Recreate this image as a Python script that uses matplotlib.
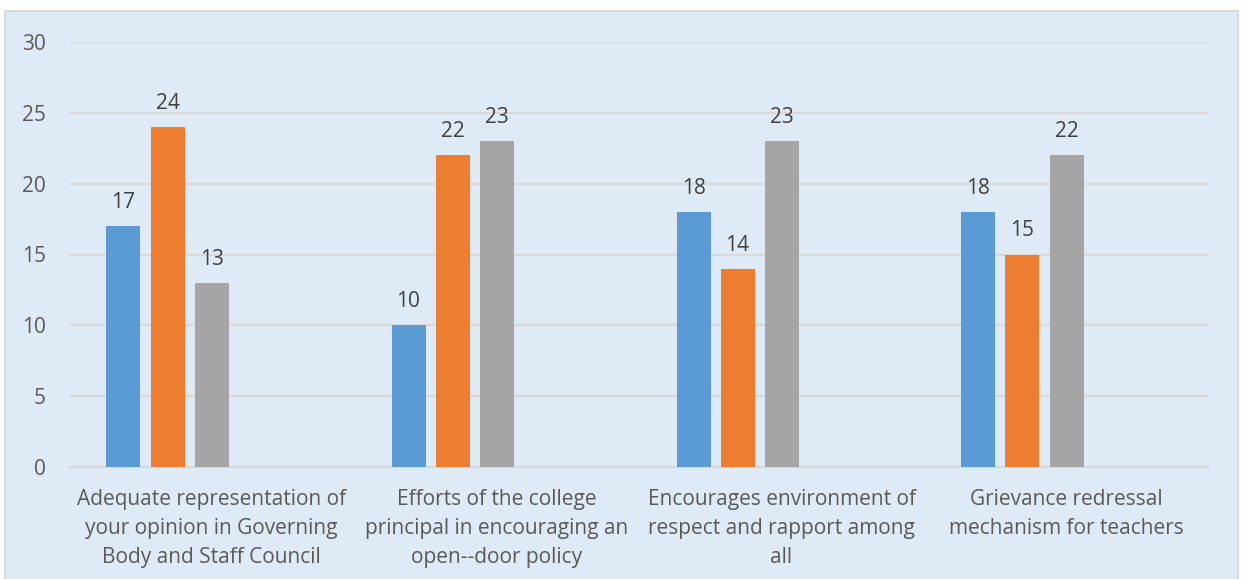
import matplotlib
matplotlib.use("Agg")
import matplotlib.pyplot as plt
from matplotlib.patches import Rectangle
import numpy as np

categories = [
    "Adequate representation of\nyour opinion in Governing\nBody and Staff Council",
    "Efforts of the college\nprincipal in encouraging an\nopen--door policy",
    "Encourages environment of\nrespect and rapport among\nall",
    "Grievance redressal\nmechanism for teachers",
]
series_a = [17, 10, 18, 18]
series_b = [24, 22, 14, 15]
series_c = [13, 23, 23, 22]

colors = ["#5B9BD5", "#ED7D31", "#A5A5A5"]
text_color = "#595959"
plt.rcParams["font.family"] = ["Open Sans", "DejaVu Sans"]

W, H = 1243, 579
fig = plt.figure(figsize=(W / 100, H / 100), dpi=100)
# light blue chart area with grey border
fig.patches.append(Rectangle((5 / W, -0.01), (1238 - 5) / W, (H - 11) / H + 0.01,
                             transform=fig.transFigure, facecolor="#DEEAF6",
                             edgecolor="#D9D9D9", linewidth=1.5, zorder=-5))

ax = fig.add_axes([69 / W, 1 - 467 / H, (1209 - 69) / W, (467 - 42) / H])
ax.set_facecolor("none")
ax.set_zorder(2)

x = np.arange(len(categories))
step = 44 / 285
width = 34 / 285
for k, vals in enumerate([series_a, series_b, series_c]):
    pos = x + (k - 2) * step
    bars = ax.bar(pos, vals, width, color=colors[k], zorder=3)
    for b, v in zip(bars, vals):
        ax.annotate(str(v), (b.get_x() + b.get_width() / 2, v), xytext=(0, 13),
                    textcoords="offset pixels", ha="center", va="bottom",
                    fontsize=15, color="#404040")

ax.set_xlim(-0.5, 3.5)
ax.set_ylim(0, 30)
ax.set_yticks(range(0, 31, 5))
ax.grid(axis="y", color="#D9D9D9", linewidth=1.5, zorder=0)
for s in ["top", "right", "left"]:
    ax.spines[s].set_visible(False)
ax.spines["bottom"].set_color("#D9D9D9")
ax.spines["bottom"].set_linewidth(1.5)
ax.tick_params(length=0, colors=text_color, labelsize=15)
ax.tick_params(axis="y", pad=16.5)
ax.tick_params(axis="x", pad=16)
ax.set_xticks(x)
ax.set_xticklabels(categories, linespacing=1.5)

fig.savefig("out.png", dpi=100)
